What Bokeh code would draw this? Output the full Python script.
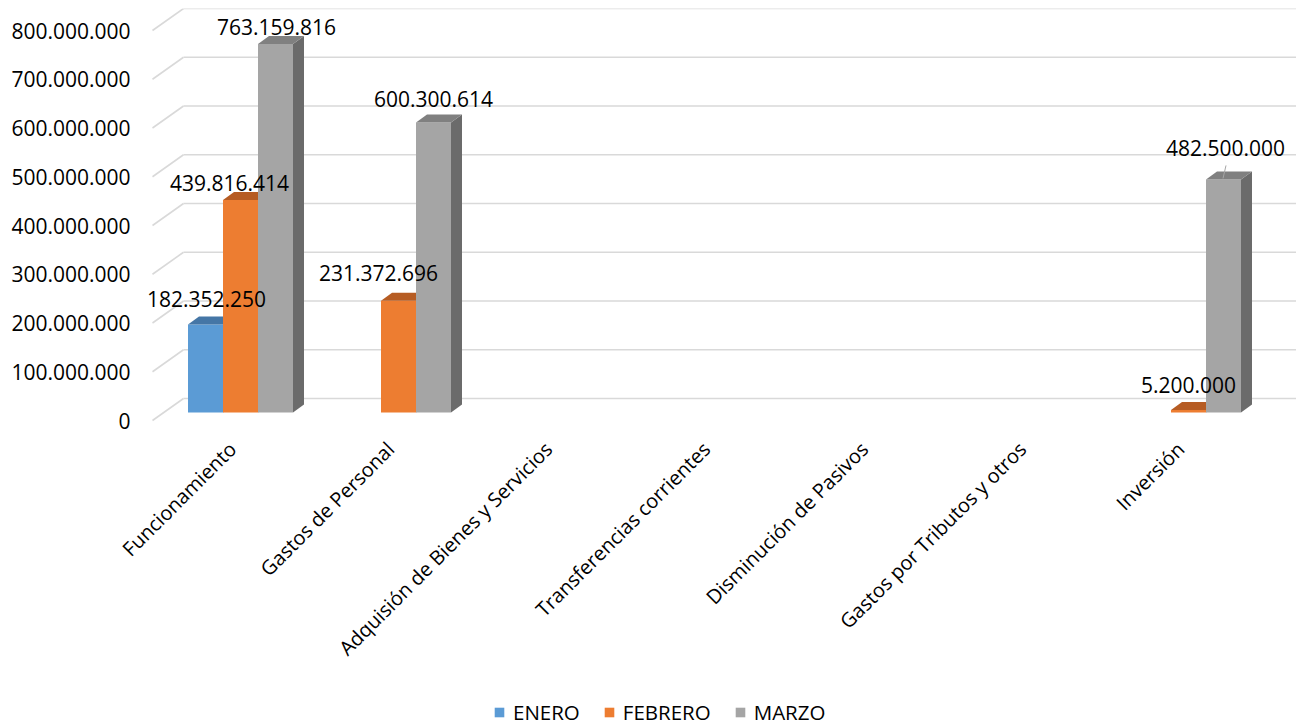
import math
from bokeh.plotting import figure
from bokeh.models import Range1d, Legend, LegendItem, ColumnDataSource
from bokeh.core.properties import value
from bokeh.embed import file_html
from bokeh.resources import INLINE

# ---------------- data ----------------
categories = ["Funcionamiento", "Gastos de Personal", "Adquisión de Bienes y Servicios",
              "Transferencias corrientes", "Disminución de Pasivos",
              "Gastos por Tributos y otros", "Inversión"]
series_names = ["ENERO", "FEBRERO", "MARZO"]
enero = [182352250, 0, 0, 0, 0, 0, 0]
febrero = [439816414, 231372696, 0, 0, 0, 0, 5200000]
marzo = [763159816, 600300614, 0, 0, 0, 0, 482500000]
y_ticks = [0, 100000000, 200000000, 300000000, 400000000,
           500000000, 600000000, 700000000, 800000000]

# ---------------- style ----------------
front_colors = ["#5B9BD5", "#ED7D31", "#A5A5A5"]
top_colors = ["#4576A6", "#B65C23", "#808080"]
side_colors = ["#3F6D99", "#A5521F", "#6B6B6B"]
FONT = "Open Sans"

TOP_PX = 8.0          # frame top on the page
FRAME_W, FRAME_H = 1296, 719
PX_X = 158.0          # px per category
X0_PX = 240.0         # page x of first category centre
BAR_BASE_PAGE = 412.0 # page y of the bar baseline
PX_PER_UNIT = 0.483e-6
LAB_BASE_PAGE = 420.0 # page y of the label-plane zero
LAB_PX_PER_UNIT = 0.4875e-6
CAT_LABEL_PAGE = 445.0
YLAB_RIGHT_PAGE = 130.0
BAR_W = 35.0 / PX_X
DEPTH_X = 11.0 / PX_X
DEPTH_Y = 8.0 / PX_PER_UNIT
WALL_X0 = (152.0 - X0_PX) / PX_X
WALL_X1 = (183.0 - X0_PX) / PX_X
WALL_END = (1300.0 - X0_PX) / PX_X
WALL_DY = 22.0 / LAB_PX_PER_UNIT
TICK_SHIFT = -8.0 / PX_X

# label offsets in screen px (x, y) per series/category
lab_dx = {(0, 0): 1, (1, 0): -11, (2, 0): 1, (1, 1): -20, (2, 1): 0, (1, 6): 0, (2, 6): 2}
lab_dy = {(0, 0): -25, (1, 0): -17, (2, 0): -17, (1, 1): -28, (2, 1): -24, (1, 6): -25, (2, 6): -31}

bottom_page = TOP_PX + FRAME_H
x_range = Range1d(-X0_PX / PX_X, (FRAME_W - X0_PX) / PX_X)
y_range = Range1d(-(bottom_page - BAR_BASE_PAGE) / PX_PER_UNIT,
                  (BAR_BASE_PAGE - TOP_PX) / PX_PER_UNIT)

p = figure(frame_width=FRAME_W, frame_height=FRAME_H, x_range=x_range, y_range=y_range,
           output_backend="svg", toolbar_location=None, y_axis_location=None,
           x_axis_location=None,
           min_border_left=0, min_border_right=0, min_border_top=int(TOP_PX),
           min_border_bottom=0)
p.extra_y_ranges = {"lab": Range1d(-(bottom_page - LAB_BASE_PAGE) / LAB_PX_PER_UNIT,
                                   (LAB_BASE_PAGE - TOP_PX) / LAB_PX_PER_UNIT)}
p.outline_line_color = None
p.xgrid.visible = False
p.ygrid.visible = False

# gridlines (floor diagonal + back wall)
n = len(y_ticks)
p.segment(x0=[WALL_X0] * n, y0=y_ticks, x1=[WALL_X1] * n,
          y1=[t + WALL_DY for t in y_ticks], y_range_name="lab",
          line_color="#D9D9D9", line_width=1.6)
p.segment(x0=[WALL_X1] * n, y0=[t + WALL_DY for t in y_ticks], x1=[WALL_END] * n,
          y1=[t + WALL_DY for t in y_ticks], y_range_name="lab",
          line_color="#D9D9D9", line_width=1.6)

# value-axis labels
p.text(x=[(YLAB_RIGHT_PAGE - X0_PX) / PX_X] * n, y=y_ticks,
       text=[f"{t:,}".replace(",", ".") for t in y_ticks], y_range_name="lab",
       text_align="right", text_baseline="middle", text_font=value(FONT),
       text_font_size="21px", text_color="#000000")

# category labels (rotated, anchored at their end)
cat_y = -(CAT_LABEL_PAGE - BAR_BASE_PAGE) / PX_PER_UNIT
p.text(x=[i + TICK_SHIFT for i in range(len(categories))], y=[cat_y] * len(categories),
       text=categories, angle=math.pi / 4, text_align="right", text_baseline="middle",
       text_font=value(FONT), text_font_size="20px", text_color="#000000")

# bars
all_series = [enero, febrero, marzo]
legend_items = []
lx, ly, lt, lxo, lyo = [], [], [], [], []
for s, vals in enumerate(all_series):
    xs_c = [i + (s - 1) * BAR_W for i in range(len(categories))]
    r = p.vbar(x=xs_c, top=vals, bottom=0, width=BAR_W,
               fill_color=front_colors[s], line_color=None)
    legend_items.append(LegendItem(label=series_names[s], renderers=[r]))
    top_xs, top_ys, side_xs, side_ys = [], [], [], []
    for i, v in enumerate(vals):
        if v <= 0:
            continue
        xl, xr = xs_c[i] - BAR_W / 2, xs_c[i] + BAR_W / 2
        top_xs.append([xl, xr, xr + DEPTH_X, xl + DEPTH_X])
        top_ys.append([v, v, v + DEPTH_Y, v + DEPTH_Y])
        side_xs.append([xr, xr + DEPTH_X, xr + DEPTH_X, xr])
        side_ys.append([0, DEPTH_Y, v + DEPTH_Y, v])
        lx.append(xs_c[i])
        ly.append(v)
        lt.append(f"{v:,}".replace(",", "."))
        lxo.append(lab_dx.get((s, i), 0))
        lyo.append(lab_dy.get((s, i), -24))
    p.patches(xs=side_xs, ys=side_ys, fill_color=side_colors[s], line_color=None)
    p.patches(xs=top_xs, ys=top_ys, fill_color=top_colors[s], line_color=None)

# leader line for the Inversión / MARZO label
inv_x = 6 + BAR_W
inv_v = marzo[6]
p.segment(x0=[inv_x + 2.5 / PX_X], y0=[inv_v + 14 / PX_PER_UNIT],
          x1=[inv_x - 0.5 / PX_X], y1=[inv_v + 1 / PX_PER_UNIT],
          line_color="#A6A6A6", line_width=1)

src = ColumnDataSource(dict(x=lx, y=ly, t=lt, xo=lxo, yo=lyo))
p.text(x="x", y="y", text="t", x_offset="xo", y_offset="yo", source=src,
       text_align="center", text_baseline="middle", text_font=value(FONT),
       text_font_size="21px", text_color="#000000")

legend = Legend(items=legend_items, orientation="horizontal",
                location=(493, 1), glyph_width=12, glyph_height=12,
                label_standoff=8, spacing=23, padding=0, margin=0,
                label_text_font=FONT, label_text_font_size="20.5px",
                label_text_color="#000000", border_line_color=None,
                background_fill_alpha=0)
p.add_layout(legend, "center")

open("out.html", "w").write(file_html(p, INLINE))
